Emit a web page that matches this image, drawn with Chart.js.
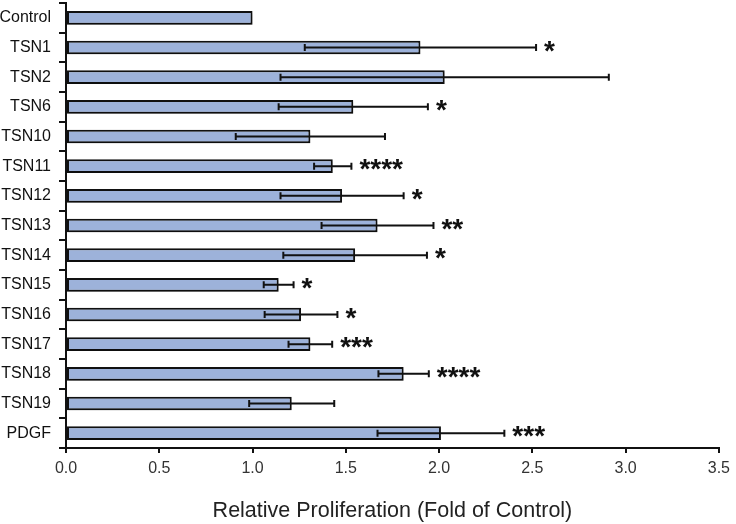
<!DOCTYPE html>
<html>
<head>
<meta charset="utf-8">
<script src="https://cdn.jsdelivr.net/npm/chart.js@4"></script>
<style>
  html, body { margin: 0; padding: 0; background: #fff; }
  #wrap { width: 736px; height: 524px; }
</style>
</head>
<body>
<div id="wrap"><canvas id="prolifChart"></canvas></div>
<script>
const categories = ['Control', 'TSN1', 'TSN2', 'TSN6', 'TSN10', 'TSN11', 'TSN12', 'TSN13',
                    'TSN14', 'TSN15', 'TSN16', 'TSN17', 'TSN18', 'TSN19', 'PDGF'];
const meanValues = [1.00, 1.90, 2.03, 1.54, 1.31, 1.43, 1.48, 1.67, 1.55, 1.14, 1.26, 1.31, 1.81, 1.21, 2.01];
const errorValues = [0, 0.62, 0.88, 0.40, 0.40, 0.10, 0.33, 0.30, 0.385, 0.08, 0.195, 0.117, 0.135, 0.228, 0.34];
const significance = ['', '*', '', '*', '', '****', '*', '**', '*', '*', '*', '***', '****', '', '***'];
const xTicks = [0, 0.5, 1.0, 1.5, 2.0, 2.5, 3.0, 3.5];

const fontFamily = '"Liberation Sans", Arial, Helvetica, sans-serif';

// error bars + stars, drawn after bars
const errorBarPlugin = {
    id: 'errorBars',
    beforeDatasetsDraw(chart) {
        const ctx = chart.ctx;
        ctx.save();
        ctx.shadowColor = 'rgba(0,0,0,0.25)';
        ctx.shadowBlur = 3;
        ctx.shadowOffsetX = 1;
        ctx.shadowOffsetY = 2;
    },
    afterDatasetsDraw(chart) {
        const ctx = chart.ctx;
        ctx.restore();
        const xs = chart.scales.x;
        const meta = chart.getDatasetMeta(0);
        ctx.save();
        ctx.strokeStyle = '#111';
        ctx.lineWidth = 2;
        meta.data.forEach(function(bar, i) {
            const y = bar.y;
            const err = errorValues[i];
            if (err > 0) {
                const lo = xs.getPixelForValue(meanValues[i] - err);
                const hi = xs.getPixelForValue(meanValues[i] + err);
                ctx.beginPath();
                ctx.moveTo(lo, y); ctx.lineTo(hi, y);
                ctx.moveTo(lo, y - 3.5); ctx.lineTo(lo, y + 3.5);
                ctx.moveTo(hi, y - 3.5); ctx.lineTo(hi, y + 3.5);
                ctx.stroke();
            }
            if (significance[i]) {
                const hi = xs.getPixelForValue(meanValues[i] + err);
                ctx.fillStyle = '#111';
                ctx.font = 'bold 28px ' + fontFamily;
                ctx.textAlign = 'left';
                ctx.textBaseline = 'alphabetic';
                ctx.fillText(significance[i], hi + 8, y + 12);
            }
        });
        ctx.restore();
    }
};

const ctx = document.getElementById('prolifChart').getContext('2d');
const prolifChart = new Chart(ctx, {
    type: 'bar',
    data: {
        labels: categories,
        datasets: [{
            data: meanValues,
            backgroundColor: '#9db2da',
            borderColor: '#111',
            borderWidth: 2,
            borderSkipped: false,
            barPercentage: 0.46,
            categoryPercentage: 1.0
        }]
    },
    options: {
        indexAxis: 'y',
        responsive: true,
        maintainAspectRatio: false,
        animation: false,
        layout: { padding: { top: 3, right: 0, bottom: 0, left: 0 } },
        plugins: {
            legend: { display: false },
            tooltip: { enabled: false }
        },
        scales: {
            x: {
                min: 0,
                max: 3.5,
                afterBuildTicks: function(scale) {
                    scale.ticks = xTicks.map(v => ({ value: v }));
                },
                afterFit: function(scale) { scale.height = 76; },
                border: { display: true, color: '#111', width: 2 },
                grid: { display: true, drawOnChartArea: false, drawTicks: true, tickLength: 5, color: '#111', lineWidth: 2 },
                ticks: {
                    color: '#333',
                    padding: 6,
                    font: { family: fontFamily, size: 16 },
                    callback: function(value) { return Number(value).toFixed(1); }
                },
                title: {
                    display: true,
                    text: 'Relative Proliferation (Fold of Control)',
                    color: '#222',
                    font: { family: fontFamily, size: 21.5 },
                    padding: { top: 0, bottom: 0 }
                }
            },
            y: {
                afterFit: function(scale) {
                    scale.width = 66;
                    scale.paddingTop = 0;
                    scale.paddingBottom = 0;
                },
                border: { display: true, color: '#111', width: 2 },
                grid: { display: true, offset: true, drawOnChartArea: false, drawTicks: true, tickLength: 7, color: '#111', tickColor: '#111', lineWidth: 2 },
                ticks: {
                    color: '#111',
                    padding: 8,
                    font: { family: fontFamily, size: 16 }
                }
            }
        }
    },
    plugins: [errorBarPlugin]
});
</script>
</body>
</html>
